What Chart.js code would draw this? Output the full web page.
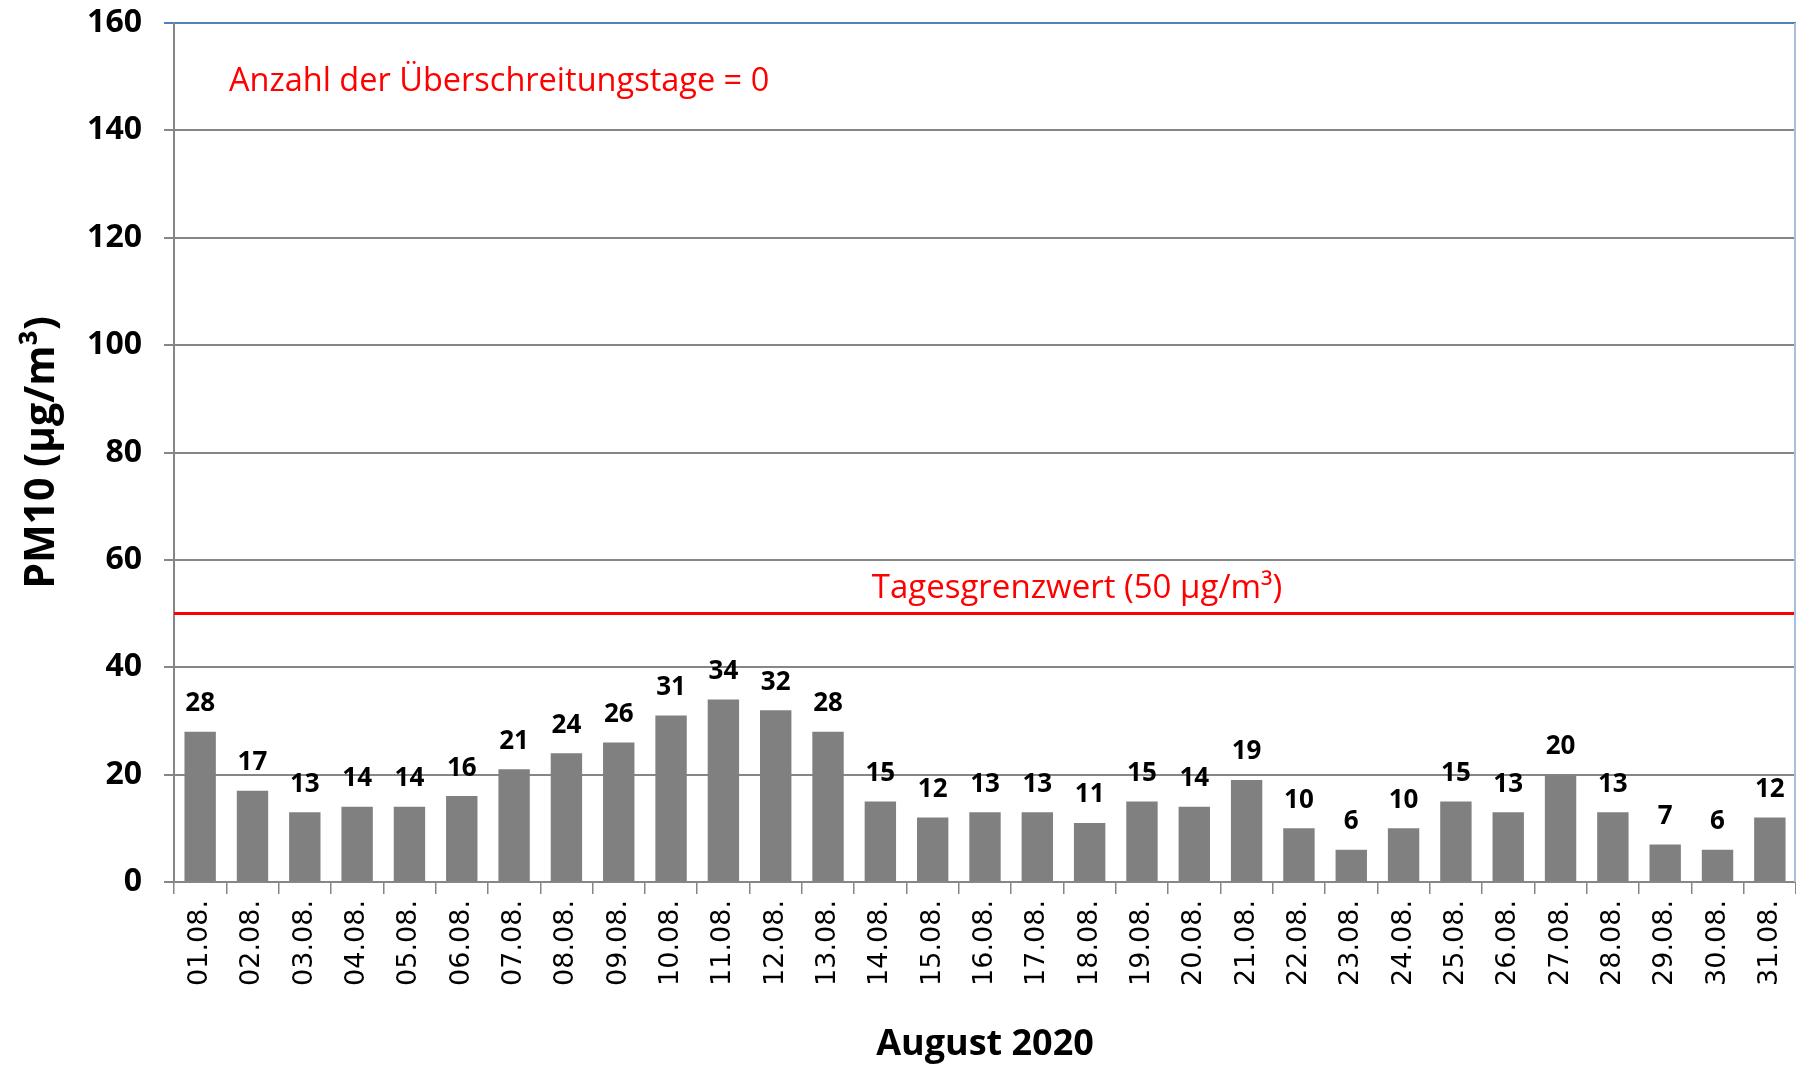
<!DOCTYPE html>
<html>
<head>
<meta charset="utf-8">
<script src="https://cdn.jsdelivr.net/npm/chart.js@4/dist/chart.umd.min.js"></script>
<style>
html,body{margin:0;padding:0;background:#fff;}
#wrap{width:1796px;height:1066px;position:relative;}
</style>
</head>
<body>
<div id="wrap"><canvas id="c"></canvas></div>
<script>
const days = ['01.08.','02.08.','03.08.','04.08.','05.08.','06.08.','07.08.','08.08.','09.08.','10.08.',
  '11.08.','12.08.','13.08.','14.08.','15.08.','16.08.','17.08.','18.08.','19.08.','20.08.',
  '21.08.','22.08.','23.08.','24.08.','25.08.','26.08.','27.08.','28.08.','29.08.','30.08.','31.08.'];
const pm10 = [28,17,13,14,14,16,21,24,26,31,34,32,28,15,12,13,13,11,15,14,19,10,6,10,15,13,20,13,7,6,12];
const limitValue = 50;
const exceedanceDays = 0;
const yTicks = [0,20,40,60,80,100,120,140,160];

const CAL = "'Open Sans',sans-serif";

const overlay = {
  id: 'overlay',
  afterDatasetsDraw(chart) {
    const ctx = chart.ctx;
    const ca = chart.chartArea;
    const y = chart.scales.y;
    const meta = chart.getDatasetMeta(0);
    ctx.save();
    ctx.fillStyle = '#000';
    ctx.font = "bold 26px " + CAL;
    ctx.textAlign = 'center';
    ctx.textBaseline = 'middle';
    meta.data.forEach((el, i) => {
      ctx.fillText(String(pm10[i]), el.x, el.y - 28);
    });
    const ly = y.getPixelForValue(limitValue);
    ctx.strokeStyle = '#ff0000';
    ctx.lineWidth = 3;
    ctx.beginPath();
    ctx.moveTo(ca.left, ly);
    ctx.lineTo(ca.right, ly);
    ctx.stroke();
    ctx.fillStyle = '#ff0000';
    ctx.font = "33px " + CAL;
    ctx.textAlign = 'center';
    ctx.fillText('Tagesgrenzwert (' + limitValue + ' µg/m³)', 1077, ly - 25);
    ctx.font = "32.5px " + CAL;
    ctx.textAlign = 'left';
    ctx.fillText('Anzahl der Überschreitungstage = ' + exceedanceDays, 229, y.getPixelForValue(149));
    ctx.strokeStyle = '#a9bfdc';
    ctx.lineWidth = 2;
    ctx.beginPath();
    ctx.moveTo(ca.right - 1, ca.top);
    ctx.lineTo(ca.right - 1, ca.bottom);
    ctx.stroke();
    ctx.restore();
  }
};

new Chart(document.getElementById('c'), {
  type: 'bar',
  data: {
    labels: days,
    datasets: [{
      data: pm10,
      backgroundColor: '#808080',
      borderWidth: 0,
      barPercentage: 0.6,
      categoryPercentage: 1.0
    }]
  },
  options: {
    responsive: true,
    maintainAspectRatio: false,
    animation: false,
    layout: { padding: { top: 23, right: 0, left: 0, bottom: 0 } },
    plugins: { legend: { display: false }, tooltip: { enabled: false }, title: { display: false } },
    scales: {
      x: {
        offset: true,
        grid: { drawOnChartArea: false, drawTicks: true, tickLength: 12, color: '#868686', lineWidth: 1.5, offset: true },
        border: { display: true, color: '#868686', width: 2 },
        ticks: {
          color: '#000', maxRotation: 90, minRotation: 90, autoSkip: false, padding: 6,
          font: { family: "'DejaVu Sans',sans-serif", size: 27 }
        },
        title: {
          display: true, text: 'August 2020', color: '#000',
          font: { family: CAL, size: 36, weight: 'bold' }, padding: { top: 0, bottom: 0 }
        },
        afterFit(s) { s.height = 184; s.paddingLeft = 0; s.paddingRight = 0; }
      },
      y: {
        min: 0, max: 160,
        afterBuildTicks(s) { s.ticks = yTicks.map(v => ({ value: v })); },
        grid: {
          color: (c) => (c.tick && c.tick.value === 160) ? '#4f81bd' : '#868686',
          lineWidth: 2, tickLength: 10, drawTicks: true
        },
        border: { display: true, color: '#868686', width: 2 },
        ticks: {
          color: '#000', padding: 22,
          font: { family: CAL, size: 32, weight: 'bold' }
        },
        title: {
          display: true, text: 'PM10 (µg/m³)', color: '#000',
          font: { family: CAL, size: 41, weight: 'bold' }, padding: { top: 18, bottom: 0 }
        },
        afterFit(s) { s.width = 174; s.paddingTop = 0; s.paddingBottom = 0; }
      }
    }
  },
  plugins: [overlay]
});
</script>
</body>
</html>
